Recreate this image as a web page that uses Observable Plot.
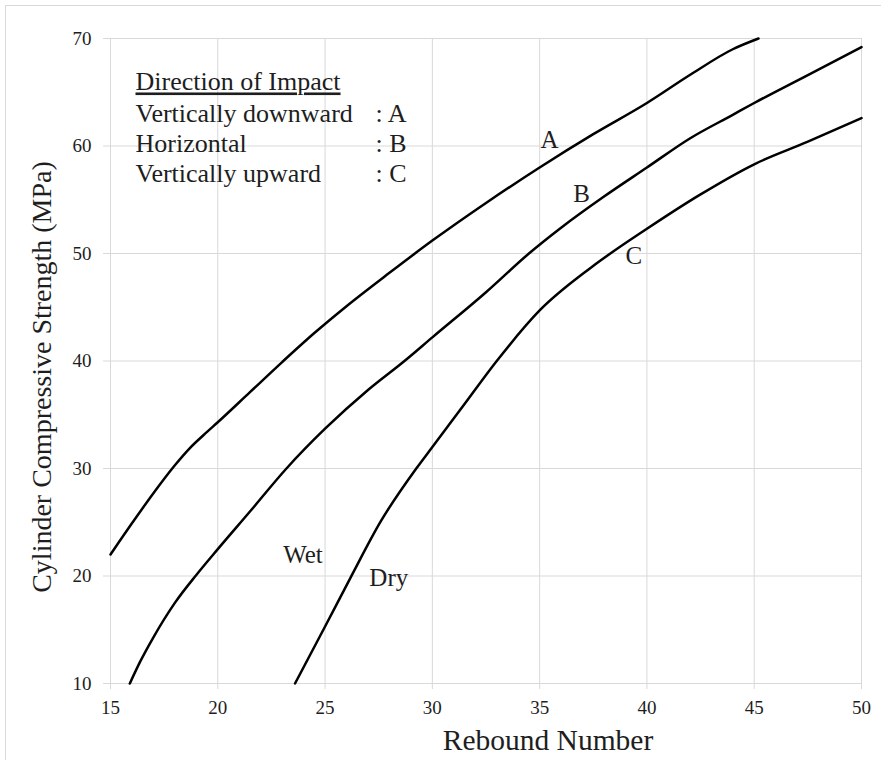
<!DOCTYPE html>
<html><head><meta charset="utf-8">
<script src="https://cdn.jsdelivr.net/npm/d3@7"></script>
<script src="https://cdn.jsdelivr.net/npm/@observablehq/plot@0.6"></script>
<style>
html,body{margin:0;padding:0;background:#fff;overflow:hidden;}
#frame{position:absolute;left:5px;top:5px;width:900px;height:800px;border:1px solid #d9d9d9;box-sizing:border-box;}
#chart{position:absolute;left:0;top:0;}
#chart svg text{font-family:'Liberation Serif','Times New Roman',serif;}
</style></head><body>
<div id="frame"></div>
<div id="chart"></div>
<script>
// ---- data ----
const xTicks = [15, 20, 25, 30, 35, 40, 45, 50];
const yTicks = [10, 20, 30, 40, 50, 60, 70];

const reboundA  = [15, 16, 17, 18, 18.7, 19.5, 20, 21.5, 23, 24.5, 26, 28, 30, 32.5, 35, 37.5, 40, 42, 44, 45.2];
const strengthA = [22, 24.9, 27.7, 30.3, 31.9, 33.4, 34.3, 37.1, 39.9, 42.6, 45.1, 48.2, 51.2, 54.7, 58.0, 61.1, 64.0, 66.6, 69.0, 70.0];

const reboundB  = [15.9, 16.4, 17, 18, 19, 20, 21.5, 23.2, 25, 27, 28.7, 30, 32.5, 34.5, 36, 38, 40, 42, 44, 45, 47.5, 50];
const strengthB = [10, 12.1, 14.3, 17.5, 20.1, 22.5, 26.0, 30.0, 33.7, 37.3, 40.0, 42.2, 46.4, 50.0, 52.4, 55.3, 58.0, 60.7, 62.9, 64.0, 66.6, 69.2];

const reboundC  = [23.6, 25, 26.2, 27.6, 29.25, 30, 31.5, 33, 35, 37.4, 40, 42.5, 45, 47.5, 50];
const strengthC = [10, 15.3, 19.9, 25.1, 30.0, 32.0, 36.0, 40.0, 44.7, 48.7, 52.3, 55.5, 58.3, 60.4, 62.6];

const curveNames = ["A", "B", "C"];

const labelTexts    = ["A", "B", "C", "Wet", "Dry"];
const labelRebound  = [35.46, 36.96, 39.39, 23.97, 27.97];
const labelStrength = [60.6, 55.55, 49.81, 22.0, 19.77];

const legendTitle = "Direction of Impact";
const legendNames = ["Vertically downward", "Horizontal", "Vertically upward"];
const legendKeys  = [": A", ": B", ": C"];

const xTitle = "Rebound Number";
const yTitle = "Cylinder Compressive Strength (MPa)";

// ---- build table ----
const series = [[reboundA, strengthA], [reboundB, strengthB], [reboundC, strengthC]];
const lineData = series.flatMap(([xs, ys], i) => xs.map((x, j) => ({curve: curveNames[i], rebound: x, strength: ys[j]})));
const labelData = labelTexts.map((t, i) => ({text: t, rebound: labelRebound[i], strength: labelStrength[i]}));

const grid = "#d9d9d9";
const ink = "#1e1e1e";
const serif = "'Liberation Serif', 'Times New Roman', serif";

const chart = Plot.plot({
  width: 881,
  height: 760,
  marginLeft: 110,
  marginRight: 20,
  marginTop: 38,
  marginBottom: 77,
  style: {fontFamily: serif, background: "transparent", color: ink},
  x: {domain: [15, 50]},
  y: {domain: [10, 70]},
  marks: [
    Plot.gridX(xTicks, {stroke: grid, strokeOpacity: 1, strokeWidth: 1}),
    Plot.gridY(yTicks, {stroke: grid, strokeOpacity: 1, strokeWidth: 1}),
    Plot.axisX(xTicks, {tickSize: 6, tickPadding: 11, stroke: grid, color: ink, fontSize: 19, fontFamily: serif, label: null, tickFormat: d => String(d)}),
    Plot.axisY(yTicks, {tickSize: 7, tickPadding: 12, stroke: grid, color: ink, fontSize: 19, fontFamily: serif, label: null, tickFormat: d => String(d)}),
    Plot.line(lineData, {x: "rebound", y: "strength", z: "curve", stroke: "black", strokeWidth: 2.5, curve: "monotone-x"}),
    Plot.text(labelData, {x: "rebound", y: "strength", text: "text", fontSize: 25, fontFamily: serif, fill: ink, textAnchor: "middle", lineAnchor: "middle"}),
    Plot.text([legendTitle], {frameAnchor: "top-left", dx: 25, dy: 33.5, fontSize: 26, fontFamily: serif, fill: ink, textAnchor: "start", lineAnchor: "top"}),
    Plot.text([legendNames.join("\n")], {frameAnchor: "top-left", dx: 25, dy: 62.5, fontSize: 26, fontFamily: serif, lineHeight: 30 / 26, fill: ink, textAnchor: "start", lineAnchor: "top"}),
    Plot.text([legendKeys.join("\n")], {frameAnchor: "top-left", dx: 265, dy: 62.5, fontSize: 26, fontFamily: serif, lineHeight: 30 / 26, fill: ink, textAnchor: "start", lineAnchor: "top"}),
    Plot.text([xTitle], {frameAnchor: "bottom", dx: 62, dy: 57, fontSize: 29.5, fontFamily: serif, fill: ink, textAnchor: "middle", lineAnchor: "middle"}),
    Plot.text([yTitle], {frameAnchor: "left", dx: -68, dy: 16, rotate: -90, fontSize: 28, fontFamily: serif, fill: ink, textAnchor: "middle", lineAnchor: "middle"})
  ]
});
chart.querySelectorAll("text").forEach(el => {
  if (el.textContent === legendTitle) {
    el.style.textDecoration = "underline";
    el.setAttribute("text-decoration", "underline");
  }
});
document.getElementById("chart").appendChild(chart);
</script>
</body></html>
